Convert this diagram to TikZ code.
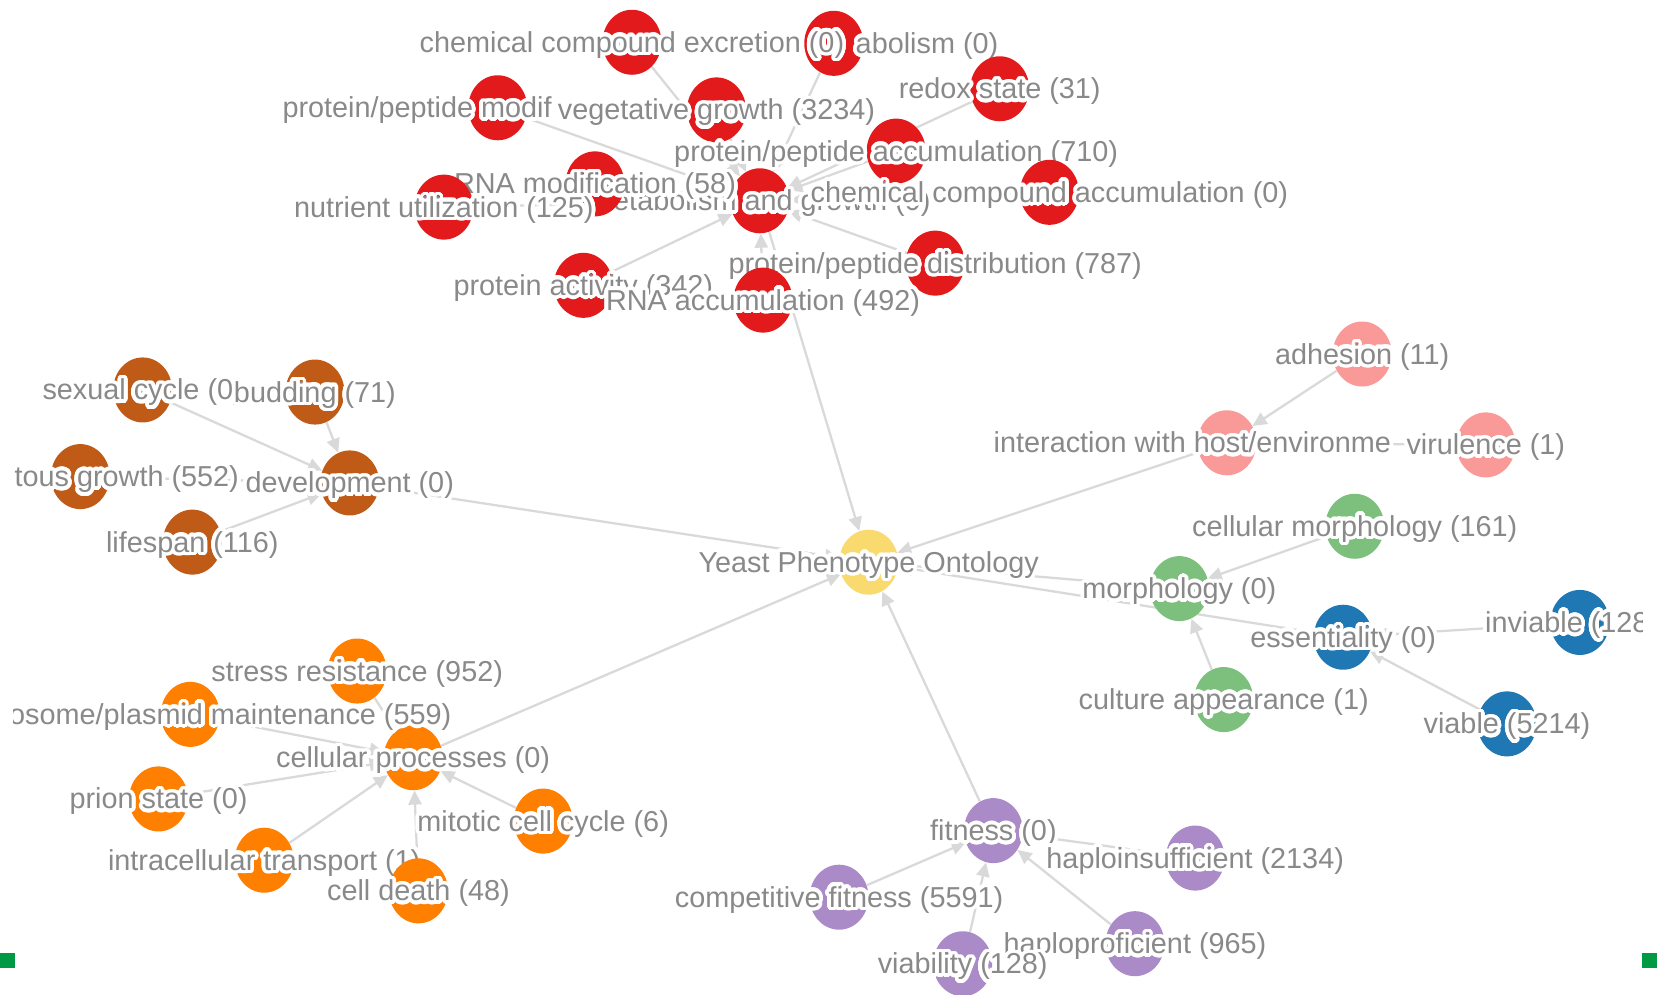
\documentclass[tikz,border=0pt]{standalone}
\usepackage{fontspec}
\setmainfont{Liberation Sans}
\usepackage[copies]{contour}
\contourlength{2.1pt}
\contournumber{32}
\usetikzlibrary{arrows.meta, shapes.geometric}
\pgfdeclarelayer{background}
\pgfsetlayers{background,main}

\definecolor{cRed}{HTML}{E31A1C}
\definecolor{cBrown}{HTML}{BF5B17}
\definecolor{cOrange}{HTML}{FF7F00}
\definecolor{cPurple}{HTML}{AA8BC7}
\definecolor{cPink}{HTML}{F99A98}
\definecolor{cGreen}{HTML}{7DC07D}
\definecolor{cBlue}{HTML}{1F77B4}
\definecolor{cYellow}{HTML}{F9DA6F}
\definecolor{txtgray}{HTML}{898989}
\definecolor{linkgray}{HTML}{D9D9D9}
\definecolor{markgreen}{HTML}{009A44}

\newcommand{\halo}[1]{\contour{white}{#1}}

\begin{document}
\begin{tikzpicture}[
        x=0.021136cm, y=-0.021136cm,
        vx/.style={ellipse, minimum width=1.18cm, minimum height=1.3cm, inner sep=0pt},
        lbl/.style={text=txtgray, font=\fontsize{16.4}{19}\selectfont, inner sep=0pt, anchor=base, yshift=-0.2cm},
        link/.style={draw=linkgray, line width=1.3pt, -{Triangle[length=8pt, width=7.5pt]}}
    ]
    \useasboundingbox (0,0) rectangle (1568,941);

    % side markers
    \fill[markgreen] (0,902) rectangle (14,916);
    \fill[markgreen] (1554,902) rectangle (1568,916);

    \begin{scope}
    \clip (13,0) rectangle (1554,941);

    % Root
    \node[vx, fill=cYellow] (root) at (822,532) {};
    \node[lbl] at (root) {\halo{Yeast Phenotype Ontology}};

    % Metabolism and growth
    \node[vx, fill=cRed] (mg) at (719,190) {};
    \node[lbl] at (mg) {\halo{metabolism and growth (0)}};
    \node[vx, fill=cRed] (cat) at (789,41) {};
    \node[lbl, anchor=base east] (catlbl) at (945,41) {\halo{abolism (0)}};
    \node[vx, fill=cRed] (ex) at (598,40) {};
    \node[lbl] at (ex) {\halo{chemical compound excretion (0)}};
    \node[vx, fill=cRed] (mod) at (471,102) {};
    \node[lbl, anchor=base west] (modlbl) at (267,102) {\halo{protein/peptide modif}};
    \node[vx, fill=cRed] (veg) at (678,104) {};
    \node[lbl] at (veg) {\halo{vegetative growth (3234)}};
    \node[vx, fill=cRed] (ppacc) at (848,143) {};
    \node[lbl] at (ppacc) {\halo{protein/peptide accumulation (710)}};
    \node[vx, fill=cRed] (redox) at (946,84) {};
    \node[lbl] at (redox) {\halo{redox state (31)}};
    \node[vx, fill=cRed] (cca) at (993,182) {};
    \node[lbl] at (cca) {\halo{chemical compound accumulation (0)}};
    \node[vx, fill=cRed] (ppd) at (885,249) {};
    \node[lbl] at (ppd) {\halo{protein/peptide distribution (787)}};
    \node[vx, fill=cRed] (rnamod) at (563,174) {};
    \node[lbl] at (rnamod) {\halo{RNA modification (58)}};
    \node[vx, fill=cRed] (nut) at (420,196) {};
    \node[lbl] at (nut) {\halo{nutrient utilization (125)}};
    \node[vx, fill=cRed] (pact) at (552,270) {};
    \node[lbl] at (pact) {\halo{protein activity (342)}};
    \node[vx, fill=cRed] (rnaacc) at (722,284) {};
    \node[lbl] at (rnaacc) {\halo{RNA accumulation (492)}};

    % Development
    \node[vx, fill=cBrown] (dev) at (331,457) {};
    \node[lbl] at (dev) {\halo{development (0)}};
    \node[vx, fill=cBrown] (sex) at (135,369) {};
    \node[lbl] at (sex) {\halo{sexual cycle (0)}};
    \node[vx, fill=cBrown] (bud) at (298,371) {};
    \node[lbl] at (bud) {\halo{budding (71)}};
    \node[vx, fill=cBrown] (fil) at (76,451) {};
    \node[lbl] at (fil) {\halo{filamentous growth (552)}};
    \node[vx, fill=cBrown] (life) at (182,513) {};
    \node[lbl] at (life) {\halo{lifespan (116)}};

    % Cellular processes
    \node[vx, fill=cOrange] (cp) at (391,717) {};
    \node[lbl] at (cp) {\halo{cellular processes (0)}};
    \node[vx, fill=cOrange] (stress) at (338,635) {};
    \node[lbl] at (stress) {\halo{stress resistance (952)}};
    \node[vx, fill=cOrange] (chrom) at (180,676) {};
    \node[lbl] at (chrom) {\halo{chromosome/plasmid maintenance (559)}};
    \node[vx, fill=cOrange] (prion) at (150,756) {};
    \node[lbl] at (prion) {\halo{prion state (0)}};
    \node[vx, fill=cOrange] (mit) at (514,777) {};
    \node[lbl] at (mit) {\halo{mitotic cell cycle (6)}};
    \node[vx, fill=cOrange] (intra) at (250,814) {};
    \node[lbl] at (intra) {\halo{intracellular transport (1)}};
    \node[vx, fill=cOrange] (death) at (396,843) {};
    \node[lbl] at (death) {\halo{cell death (48)}};

    % Fitness
    \node[vx, fill=cPurple] (fit) at (940,786) {};
    \node[lbl] at (fit) {\halo{fitness (0)}};
    \node[vx, fill=cPurple] (comp) at (794,849) {};
    \node[lbl] at (comp) {\halo{competitive fitness (5591)}};
    \node[vx, fill=cPurple] (haplo) at (1131,812) {};
    \node[lbl] at (haplo) {\halo{haploinsufficient (2134)}};
    \node[vx, fill=cPurple] (hprof) at (1074,893) {};
    \node[lbl] at (hprof) {\halo{haploproficient (965)}};
    \node[vx, fill=cPurple] (viab) at (911,912) {};
    \node[lbl] at (viab) {\halo{viability (128)}};

    % Interaction with host/environment
    \node[vx, fill=cPink] (inter) at (1161,419) {};
    \node[lbl, anchor=base west] (interlbl) at (940,419) {\halo{interaction with host/environme}};
    \node[vx, fill=cPink] (adh) at (1289,335) {};
    \node[lbl] at (adh) {\halo{adhesion (11)}};
    \node[vx, fill=cPink] (vir) at (1406,421) {};
    \node[lbl] at (vir) {\halo{virulence (1)}};

    % Morphology
    \node[vx, fill=cGreen] (morph) at (1116,557) {};
    \node[lbl] at (morph) {\halo{morphology (0)}};
    \node[vx, fill=cGreen] (cellm) at (1282,498) {};
    \node[lbl] at (cellm) {\halo{cellular morphology (161)}};
    \node[vx, fill=cGreen] (cult) at (1158,662) {};
    \node[lbl] at (cult) {\halo{culture appearance (1)}};

    % Essentiality
    \node[vx, fill=cBlue] (ess) at (1271,603) {};
    \node[lbl] at (ess) {\halo{essentiality (0)}};
    \node[vx, fill=cBlue] (inv) at (1495,589) {};
    \node[lbl, anchor=base west] (invlbl) at (1405,589) {\halo{inviable (128}};
    \node[vx, fill=cBlue] (viable) at (1426,685) {};
    \node[lbl] at (viable) {\halo{viable (5214)}};
    \end{scope}

    % Links, child to parent
    \begin{pgfonlayer}{background}
    \draw[link] (mg) -- (root);
    \draw[link] (dev) -- (root);
    \draw[link] (cp) -- (root);
    \draw[link] (fit) -- (root);
    \draw[link] (inter) -- (root);
    \draw[link] (morph) -- (root);
    \draw[link] (ess) -- (root);

    \draw[link] (ex) -- (mg);
    \draw[link] (cat) -- (mg);
    \draw[link] (mod) -- (mg);
    \draw[link] (veg) -- (mg);
    \draw[link] (redox) -- (mg);
    \draw[link] (ppacc) -- (mg);
    \draw[link] (cca) -- (mg);
    \draw[link] (ppd) -- (mg);
    \draw[link] (rnamod) -- (mg);
    \draw[link] (nut) -- (mg);
    \draw[link] (pact) -- (mg);
    \draw[link] (rnaacc) -- (mg);

    \draw[link] (sex) -- (dev);
    \draw[link] (bud) -- (dev);
    \draw[link] (fil) -- (dev);
    \draw[link] (life) -- (dev);

    \draw[link] (stress) -- (cp);
    \draw[link] (chrom) -- (cp);
    \draw[link] (prion) -- (cp);
    \draw[link] (mit) -- (cp);
    \draw[link] (intra) -- (cp);
    \draw[link] (death) -- (cp);

    \draw[link] (comp) -- (fit);
    \draw[link] (haplo) -- (fit);
    \draw[link] (hprof) -- (fit);
    \draw[link] (viab) -- (fit);

    \draw[link] (adh) -- (inter);
    \draw[link] (vir) -- (inter);

    \draw[link] (cellm) -- (morph);
    \draw[link] (cult) -- (morph);

    \draw[link] (inv) -- (ess);
    \draw[link] (viable) -- (ess);
    \end{pgfonlayer}

\end{tikzpicture}
\end{document}
